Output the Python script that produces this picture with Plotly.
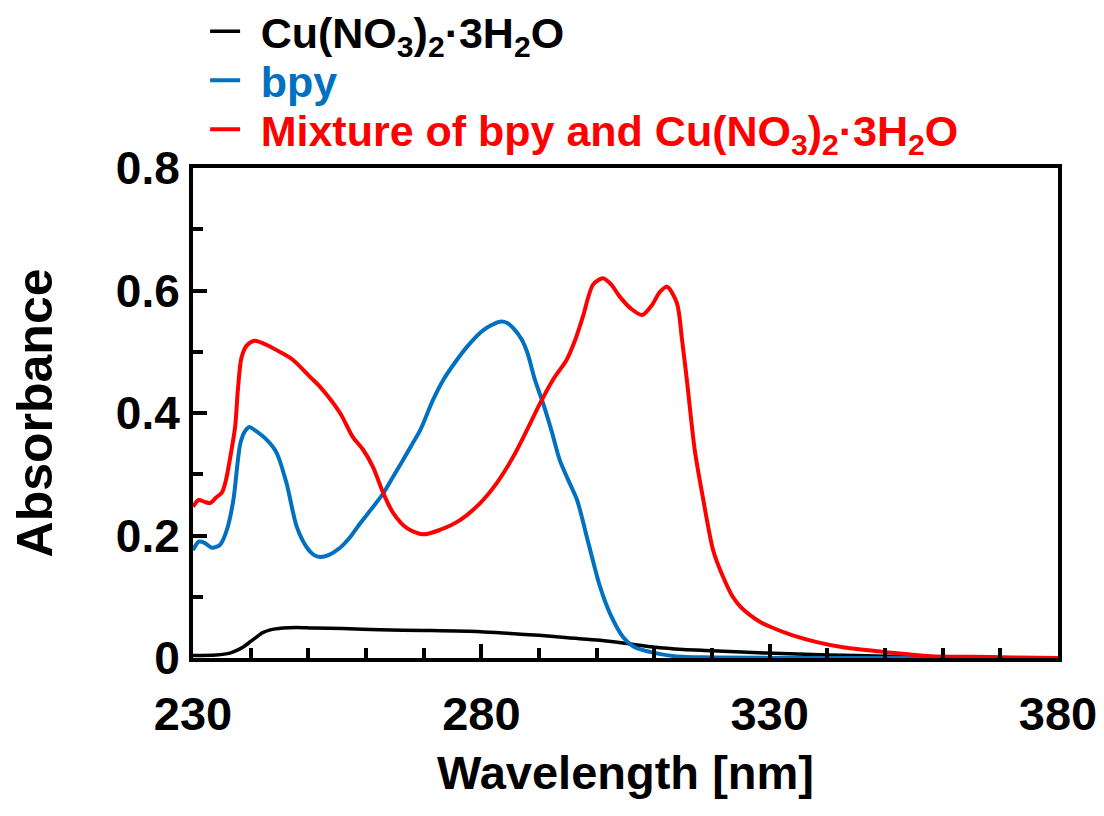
import plotly.graph_objects as go

# Absorption spectra (wavelength in nm, absorbance)
wl_cu = [230, 234, 236.4, 237.5, 238.7, 240, 241, 242, 243.4, 245.6, 248, 250.8, 256,
         262.4, 270, 279.8, 285, 290, 295, 300.6, 305, 309.8, 315, 320, 329.5, 340,
         350, 360, 370, 380]
abs_cu = [0.004, 0.005, 0.008, 0.012, 0.018, 0.027, 0.034, 0.041, 0.046, 0.049, 0.050,
          0.049, 0.048, 0.046, 0.045, 0.043, 0.040, 0.037, 0.033, 0.029, 0.024, 0.018,
          0.014, 0.012, 0.008, 0.005, 0.003, 0.001, 0.0, 0.0]

wl_bpy = [230, 231, 232, 233.3, 234.7, 235.9, 237, 238.2, 239, 239.8, 240.7, 242.8,
          244.5, 246.2, 248, 249.7, 251, 252, 253.5, 255.5, 257.3, 259, 261, 263,
          264.7, 266.4, 268, 269.4, 271.6, 273.4, 275.4, 277.5, 280.3, 283.2, 284.5,
          285.5, 287, 288, 289.3, 290.7, 292.2, 293.6, 295, 296.6, 298.5, 300.6, 302.3,
          304.6, 306.5, 309.2, 313.5, 320, 340, 380]
abs_bpy = [0.176, 0.190, 0.188, 0.180, 0.185, 0.210, 0.258, 0.350, 0.370, 0.377, 0.372,
           0.356, 0.335, 0.286, 0.214, 0.181, 0.168, 0.165, 0.168, 0.180, 0.198, 0.220,
           0.244, 0.269, 0.296, 0.323, 0.349, 0.372, 0.421, 0.454, 0.482, 0.508, 0.535,
           0.549, 0.547, 0.539, 0.520, 0.498, 0.454, 0.416, 0.370, 0.323, 0.292, 0.258,
           0.190, 0.116, 0.073, 0.034, 0.018, 0.010, 0.003, 0.001, 0.0, 0.0]

wl_mix = [230, 231, 232, 233, 234, 235, 235.7, 236.5, 237.3, 237.8, 238.4, 239.3, 240.7,
          242.8, 245, 247.3, 250.3, 252, 255.5, 257.7, 259.5, 261.2, 263, 264.7, 267.1,
          269.9, 272.8, 276.3, 279.8, 282.7, 285.5, 287.9, 290.2, 292.4, 294.8, 296.3,
          297.6, 299.4, 301.1, 302.5, 304, 306, 307.9, 309.5, 311, 312.2, 313.9, 314.8,
          315.7, 317, 318.4, 320.2, 321.8, 323.6, 325, 326.6, 328.5, 330.6, 334, 338.2,
          343, 349.6, 354, 358, 365, 372, 380]
abs_mix = [0.247, 0.258, 0.255, 0.253, 0.262, 0.270, 0.290, 0.330, 0.377, 0.440, 0.490,
           0.510, 0.518, 0.511, 0.500, 0.487, 0.459, 0.443, 0.400, 0.361, 0.340, 0.312,
           0.269, 0.237, 0.212, 0.202, 0.209, 0.225, 0.253, 0.286, 0.328, 0.372, 0.416,
           0.454, 0.487, 0.520, 0.557, 0.610, 0.620, 0.610, 0.590, 0.570, 0.560, 0.575,
           0.598, 0.606, 0.580, 0.520, 0.449, 0.340, 0.263, 0.176, 0.135, 0.100, 0.083,
           0.070, 0.058, 0.049, 0.037, 0.026, 0.017, 0.010, 0.006, 0.003, 0.002, 0.001,
           0.0]

GAP = "\u00a0\u200a"
name_cu = GAP + "Cu(NO<sub>3</sub>)<sub>2</sub>·3H<sub>2</sub>O"
name_bpy = GAP + "bpy"
name_mix = GAP + "Mixture of bpy and Cu(NO<sub>3</sub>)<sub>2</sub>·3H<sub>2</sub>O"

black, blue, red = "#000000", "#0070C0", "#FF0000"
font_family = "Arial, Liberation Sans, sans-serif"

fig = go.Figure()
fig.add_trace(go.Scatter(x=wl_cu, y=abs_cu, mode="lines", name=name_cu,
                         line=dict(color=black, width=3.5, shape="spline", smoothing=0.8),
                         legend="legend"))
fig.add_trace(go.Scatter(x=wl_bpy, y=abs_bpy, mode="lines", name=name_bpy,
                         line=dict(color=blue, width=4, shape="spline", smoothing=0.8),
                         legend="legend2"))
fig.add_trace(go.Scatter(x=wl_mix, y=abs_mix, mode="lines", name=name_mix,
                         line=dict(color=red, width=4, shape="spline", smoothing=0.8),
                         legend="legend3"))


def legend_box(y, color):
    return dict(x=0.014, y=y, xanchor="left", yanchor="middle",
                bgcolor="rgba(0,0,0,0)", borderwidth=0, itemwidth=30,
                font=dict(family=font_family, size=43, color=color, weight="bold"))


fig.update_layout(
    width=1104, height=816,
    margin=dict(l=193, r=46, t=168, b=158, autoexpand=False),
    plot_bgcolor="white", paper_bgcolor="white",
    font=dict(family=font_family, color="black", weight="bold"),
    showlegend=True,
    legend=legend_box(1.279, black),
    legend2=legend_box(1.179, blue),
    legend3=legend_box(1.079, red),
    xaxis=dict(
        range=[230, 380], tick0=230, dtick=50,
        ticks="inside", ticklen=14, tickwidth=4, tickcolor="black",
        minor=dict(ticks="inside", ticklen=10, tickwidth=4, dtick=10, tick0=230,
                   tickcolor="black"),
        showline=True, linewidth=4, linecolor="black", mirror=True,
        showgrid=False, zeroline=False,
        tickfont=dict(size=47, weight="bold"), ticklabelstandoff=12,
        title=dict(text="Wavelength [nm]", font=dict(size=47, weight="bold"), standoff=18),
    ),
    yaxis=dict(
        range=[0, 0.8], tick0=0, dtick=0.2,
        ticks="inside", ticklen=14, tickwidth=4, tickcolor="black",
        minor=dict(ticks="inside", ticklen=10, tickwidth=4, dtick=0.1, tick0=0,
                   tickcolor="black"),
        showline=True, linewidth=4, linecolor="black", mirror=True,
        showgrid=False, zeroline=False,
        tickfont=dict(size=46, weight="bold"),
        title=dict(text="Absorbance", font=dict(size=50, weight="bold"), standoff=48),
    ),
)

fig.write_html("out.html")
